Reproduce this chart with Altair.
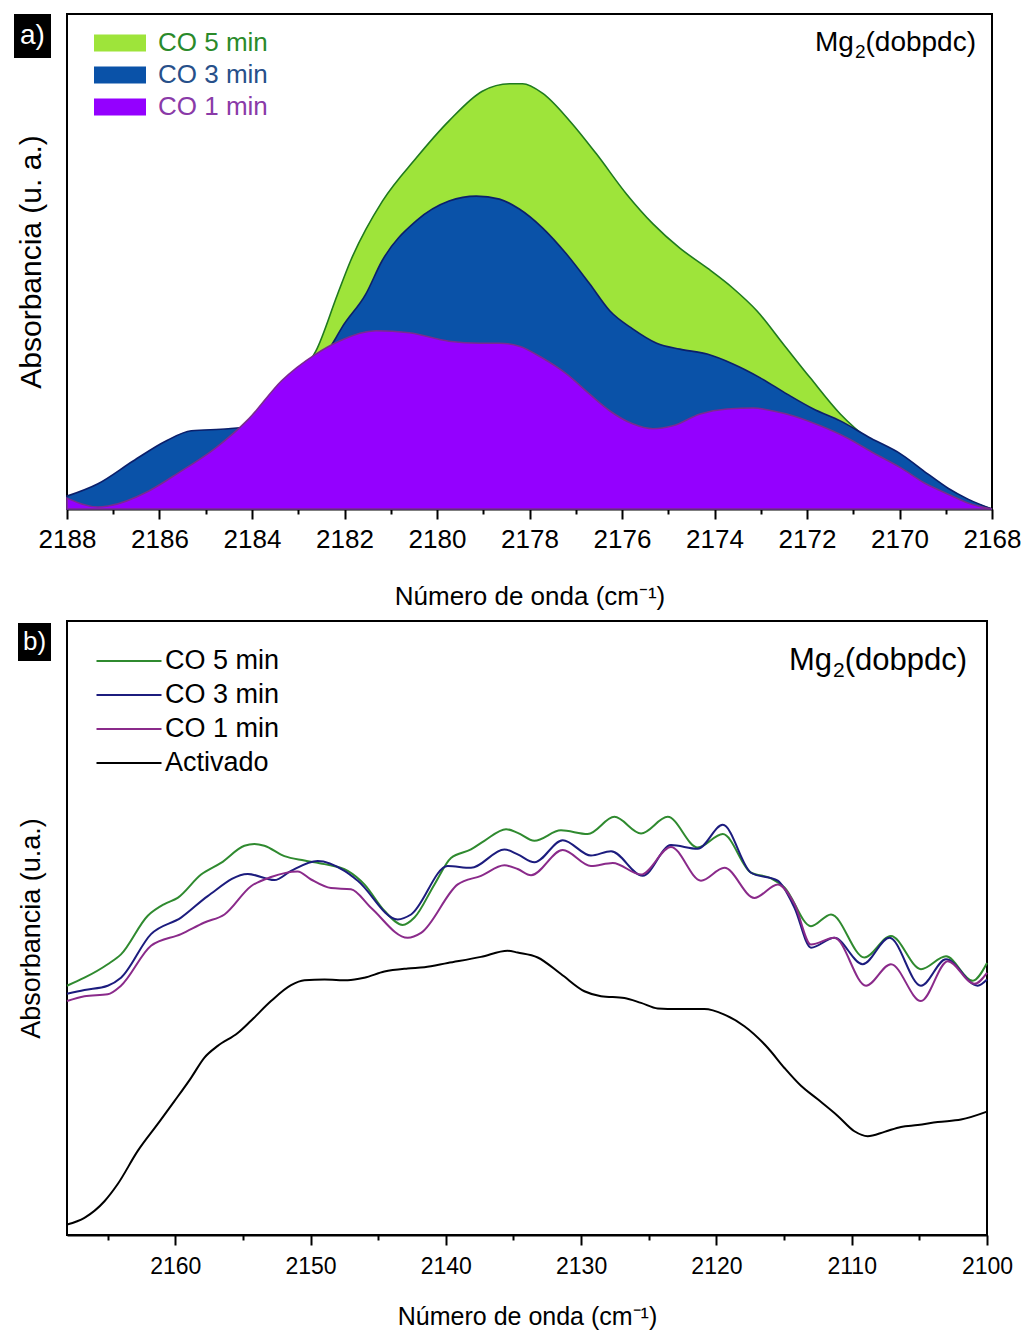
import altair as alt
import pandas as pd

FONT = "Liberation Sans, Arial, sans-serif"

# ---------------- panel (a): CO band, 2188-2168 cm-1 ----------------
a_series = ["CO 5 min", "CO 3 min", "CO 1 min"]
a_fill = ["#9ee43a", "#0a52a8", "#9400ff"]
a_edge = ["#1f7a1f", "#0b1f6b", "#7b2a8f"]

a_wn_co5 = [2188.0, 2187.33, 2186.5, 2185.5, 2184.5, 2184.0, 2183.4, 2183.0, 2182.62, 2182.15,
            2181.87, 2181.18, 2180.45, 2179.74, 2179.02, 2178.43, 2178.15, 2177.72, 2177.13, 2176.55,
            2175.90, 2175.33, 2174.75, 2174.16, 2173.60, 2173.08, 2172.51, 2171.93, 2171.28, 2170.69,
            2169.97, 2169.39, 2168.95, 2168.52, 2168.0]
a_abs_co5 = [0.015, 0.030, 0.070, 0.120, 0.150, 0.165, 0.220, 0.270, 0.319, 0.434,
             0.501, 0.622, 0.709, 0.784, 0.844, 0.859, 0.859, 0.840, 0.784, 0.717,
             0.636, 0.576, 0.527, 0.487, 0.446, 0.400, 0.333, 0.265, 0.192, 0.143,
             0.106, 0.067, 0.039, 0.017, 0.0]

a_wn_co3 = [2188.0, 2187.33, 2186.57, 2185.87, 2185.31, 2184.51, 2184.0, 2183.5, 2183.0, 2182.5,
            2182.19, 2182.06, 2181.54, 2181.19, 2180.45, 2179.74, 2179.15, 2178.65, 2178.22, 2177.72,
            2177.20, 2176.70, 2176.26, 2175.77, 2175.25, 2174.75, 2174.16, 2173.60, 2173.01, 2172.43,
            2171.86, 2171.28, 2170.62, 2169.97, 2169.39, 2168.95, 2168.52, 2168.0]
a_abs_co3 = [0.026, 0.051, 0.097, 0.137, 0.158, 0.162, 0.168, 0.205, 0.255, 0.300,
             0.345, 0.366, 0.434, 0.501, 0.582, 0.622, 0.632, 0.626, 0.606, 0.568,
             0.515, 0.455, 0.400, 0.364, 0.335, 0.323, 0.313, 0.293, 0.265, 0.232,
             0.202, 0.178, 0.143, 0.111, 0.071, 0.042, 0.020, 0.0]

a_wn_co1 = [2188.0, 2187.33, 2187.11, 2186.24, 2185.59, 2184.79, 2184.07, 2183.36, 2182.62, 2182.12,
            2181.32, 2180.60, 2179.74, 2179.08, 2178.65, 2178.22, 2177.72, 2177.20, 2176.70, 2176.26,
            2175.77, 2175.33, 2174.90, 2174.31, 2173.73, 2173.16, 2172.73, 2172.29, 2171.71, 2171.12,
            2170.56, 2169.97, 2169.47, 2168.95, 2168.52, 2168.0]
a_abs_co1 = [0.022, 0.004, 0.006, 0.036, 0.073, 0.123, 0.182, 0.259, 0.313, 0.339,
             0.360, 0.356, 0.339, 0.335, 0.335, 0.329, 0.305, 0.273, 0.232, 0.198,
             0.172, 0.162, 0.168, 0.192, 0.202, 0.204, 0.198, 0.188, 0.168, 0.143,
             0.113, 0.083, 0.053, 0.030, 0.012, 0.0]

# ---------------- panel (b): 2168-2100 cm-1 spectra ----------------
b_series = ["CO 5 min", "CO 3 min", "CO 1 min", "Activado"]
b_colors = ["#2f8a2f", "#1c1c7e", "#8a2a8a", "#000000"]

b_wn_co5 = [2168.0, 2166.71, 2164.99, 2164.01, 2162.03, 2160.80, 2159.82, 2158.09, 2156.62, 2154.89,
            2154.15, 2153.41, 2151.93, 2150.45, 2148.97, 2147.25, 2146.02, 2144.54, 2143.19, 2142.32,
            2140.84, 2139.62, 2138.14, 2137.15, 2135.55, 2134.69, 2133.45, 2131.49, 2129.51, 2127.54,
            2125.57, 2123.60, 2121.38, 2119.53, 2117.44, 2115.96, 2114.97, 2113.01, 2111.53, 2109.06,
            2107.10, 2104.88, 2103.03, 2101.06, 2100.0]
b_abs_co5 = [0.406, 0.419, 0.441, 0.457, 0.520, 0.539, 0.549, 0.587, 0.606, 0.634,
             0.637, 0.634, 0.617, 0.610, 0.604, 0.593, 0.571, 0.528, 0.505, 0.517,
             0.571, 0.614, 0.628, 0.642, 0.661, 0.655, 0.642, 0.659, 0.653, 0.681,
             0.654, 0.681, 0.631, 0.653, 0.590, 0.581, 0.566, 0.503, 0.522, 0.452,
             0.487, 0.433, 0.454, 0.414, 0.443]

b_wn_co3 = [2168.0, 2166.71, 2164.99, 2164.01, 2161.79, 2159.57, 2157.60, 2154.64, 2152.67, 2151.44,
            2149.47, 2147.49, 2146.51, 2143.56, 2142.57, 2139.86, 2138.14, 2135.67, 2134.69, 2133.45,
            2131.36, 2129.27, 2127.79, 2125.45, 2123.36, 2121.38, 2119.53, 2117.44, 2115.47, 2114.23,
            2113.01, 2111.28, 2109.19, 2107.21, 2104.88, 2103.03, 2100.69, 2100.0]
b_abs_co3 = [0.393, 0.399, 0.406, 0.419, 0.490, 0.517, 0.552, 0.588, 0.578, 0.593,
             0.609, 0.593, 0.577, 0.514, 0.522, 0.601, 0.598, 0.628, 0.620, 0.607,
             0.643, 0.618, 0.625, 0.585, 0.635, 0.629, 0.668, 0.590, 0.577, 0.533,
             0.468, 0.484, 0.441, 0.484, 0.406, 0.449, 0.406, 0.416]

b_wn_co1 = [2168.0, 2166.71, 2164.99, 2164.01, 2161.79, 2159.57, 2157.84, 2156.36, 2154.40, 2152.92,
            2150.95, 2149.96, 2148.49, 2147.01, 2145.53, 2142.82, 2141.83, 2139.12, 2137.40, 2135.67,
            2134.69, 2133.70, 2131.36, 2129.27, 2127.66, 2125.57, 2123.36, 2121.14, 2119.41, 2117.19,
            2115.47, 2114.23, 2113.01, 2111.28, 2108.94, 2107.10, 2104.88, 2102.90, 2100.93, 2100.0]
b_abs_co1 = [0.381, 0.389, 0.392, 0.406, 0.471, 0.490, 0.509, 0.522, 0.568, 0.583,
             0.592, 0.579, 0.565, 0.563, 0.533, 0.484, 0.492, 0.571, 0.585, 0.602,
             0.596, 0.586, 0.627, 0.601, 0.606, 0.587, 0.632, 0.577, 0.598, 0.549,
             0.571, 0.539, 0.473, 0.484, 0.406, 0.441, 0.381, 0.446, 0.409, 0.427]

b_wn_act = [2168.0, 2166.71, 2165.23, 2164.25, 2162.77, 2161.29, 2160.06, 2158.83, 2157.84, 2156.86,
            2155.38, 2154.40, 2152.92, 2151.44, 2150.45, 2148.97, 2147.25, 2146.02, 2144.54, 2142.82,
            2141.58, 2139.86, 2137.40, 2135.43, 2134.69, 2133.21, 2131.49, 2129.76, 2128.53, 2126.80,
            2125.57, 2124.34, 2122.86, 2120.89, 2119.41, 2117.93, 2116.21, 2114.97, 2113.75, 2112.51,
            2111.03, 2109.80, 2108.82, 2107.58, 2106.36, 2105.12, 2103.64, 2101.92, 2100.0]
b_abs_act = [0.017, 0.028, 0.055, 0.083, 0.137, 0.181, 0.218, 0.256, 0.289, 0.308,
             0.329, 0.349, 0.381, 0.407, 0.415, 0.416, 0.415, 0.419, 0.429, 0.434,
             0.436, 0.443, 0.453, 0.463, 0.460, 0.452, 0.425, 0.397, 0.389, 0.386,
             0.378, 0.369, 0.368, 0.368, 0.359, 0.340, 0.305, 0.272, 0.243, 0.221,
             0.194, 0.169, 0.161, 0.168, 0.176, 0.179, 0.184, 0.188, 0.201]


def frame(name, wn, ab):
    return pd.DataFrame({"series": name, "wn": wn, "abs": ab})


a_df = pd.concat([
    frame("CO 5 min", a_wn_co5, a_abs_co5),
    frame("CO 3 min", a_wn_co3, a_abs_co3),
    frame("CO 1 min", a_wn_co1, a_abs_co1),
], ignore_index=True)

b_df = pd.concat([
    frame("CO 5 min", b_wn_co5, b_abs_co5),
    frame("CO 3 min", b_wn_co3, b_abs_co3),
    frame("CO 1 min", b_wn_co1, b_abs_co1),
    frame("Activado", b_wn_act, b_abs_act),
], ignore_index=True)

XTITLE = "Número de onda (cm⁻¹)"

# Arial advance widths (em) for the glyphs of the "(dobpdc)" label
GLYPH_EM = {"(": 0.333, ")": 0.333, "d": 0.556, "o": 0.556, "b": 0.556, "p": 0.556, "c": 0.5, "2": 0.556}


def text_width(s, size):
    return sum(GLYPH_EM[ch] for ch in s) * size


def compound_label(right_x, mid_y, size):
    """'Mg' + subscript '2' + '(dobpdc)', right-aligned at right_x."""
    sub_size = round(size * 0.68)
    tail = "(dobpdc)"
    x_tail = right_x
    x_sub = x_tail - text_width(tail, size)
    x_head = x_sub - text_width("2", sub_size) - 1
    parts = [("(dobpdc)", x_tail, mid_y, size), ("2", x_sub, mid_y + 0.33 * size, sub_size),
             ("Mg", x_head, mid_y, size)]
    layers = []
    for txt, px, py, fs in parts:
        layers.append(
            alt.Chart(pd.DataFrame({"t": [txt]})).mark_text(
                align="right", baseline="middle", fontSize=fs, font=FONT, color="black"
            ).encode(text="t:N", x=alt.value(px), y=alt.value(py))
        )
    return layers


# ---------------- panel (a) ----------------
W_A, H_A = 925, 495
x_a = alt.X(
    "wn:Q",
    scale=alt.Scale(domain=[2168, 2188], reverse=True, nice=False, zero=False),
    axis=alt.Axis(
        values=list(range(2168, 2189)),
        labelExpr="datum.value % 2 === 0 ? datum.label : ''",
        format="d",
        tickSize={"condition": {"test": "datum.value % 2 === 0", "value": 10}, "value": 5},
        tickWidth=2, labelFontSize=26, labelPadding=7, labelOverlap=False, labelFlush=False,
        title=XTITLE, titleFontSize=26, titlePadding=31, grid=False,
        domainWidth=2,
    ),
)
y_a = alt.Y(
    "abs:Q",
    scale=alt.Scale(domain=[0, 1], nice=False),
    axis=alt.Axis(labels=False, ticks=False, domain=False, grid=False,
                  title="Absorbancia (u. a.)", titleFontSize=30, titlePadding=21),
)

# wide swatch path: spans 4 units across, so a small symbol size keeps rows compact
legend_a = alt.Legend(
    title=None, orient="none", legendX=40, legendY=16,
    symbolType="M-2,-0.65H2V0.65H-2Z", symbolSize=676, symbolStrokeWidth=0,
    symbolOpacity=1, labelFontSize=26, labelFont=FONT, labelOffset=25, rowPadding=6,
    labelColor=alt.ExprRef(
        "datum.value === 'CO 5 min' ? '#2a8a2a' : (datum.value === 'CO 3 min' ? '#27508a' : '#8a3aa8')"),
)

fill_scale = alt.Scale(domain=a_series, range=a_fill)
edge_scale = alt.Scale(domain=a_series, range=a_edge)

area_layers = []
for name in a_series:
    area_layers.append(
        alt.Chart(a_df)
        .transform_filter(alt.datum.series == name)
        .mark_area(interpolate="monotone", strokeWidth=1.6, fillOpacity=1)
        .encode(
            x=x_a, y=y_a,
            fill=alt.Fill("series:N", scale=fill_scale, legend=legend_a),
            stroke=alt.Stroke("series:N", scale=edge_scale, legend=None),
        )
    )

tag_a_df = pd.DataFrame({"t": ["a)"]})
tag_b_df = pd.DataFrame({"t": ["b)"]})

box_a = alt.Chart(tag_a_df).mark_rect(color="black").encode(
    x=alt.value(-53), x2=alt.value(-16), y=alt.value(0), y2=alt.value(44))
tag_a = alt.Chart(tag_a_df).mark_text(
    align="center", baseline="middle", fontSize=28, font=FONT, color="white"
).encode(text="t:N", x=alt.value(-34.5), y=alt.value(22))

panel_a = alt.layer(*area_layers, *compound_label(909, 29, 28), box_a, tag_a).properties(
    width=W_A, height=H_A)

# ---------------- panel (b) ----------------
W_B, H_B = 920, 614
x_b = alt.X(
    "wn:Q",
    scale=alt.Scale(domain=[2100, 2168], reverse=True, nice=False, zero=False),
    axis=alt.Axis(
        values=list(range(2100, 2166, 5)),
        labelExpr="datum.value % 10 === 0 ? datum.label : ''",
        format="d",
        tickSize={"condition": {"test": "datum.value % 10 === 0", "value": 10}, "value": 5},
        tickWidth=2, labelFontSize=23, labelPadding=10, labelOverlap=False, labelFlush=False,
        title=XTITLE, titleFontSize=25, titlePadding=26, grid=False,
        domainWidth=2,
    ),
)
y_b = alt.Y(
    "abs:Q",
    scale=alt.Scale(domain=[0, 1], nice=False),
    axis=alt.Axis(labels=False, ticks=False, domain=False, grid=False,
                  title="Absorbancia (u.a.)", titleFontSize=27, titlePadding=22),
)

legend_b = alt.Legend(
    title=None, orient="none", legendX=48, legendY=26,
    symbolType="M-2.5,0H2.5", symbolSize=676, symbolStrokeWidth=2,
    labelFontSize=27, labelFont=FONT, labelOffset=22, rowPadding=7, labelColor="black",
)

lines_b = alt.Chart(b_df).mark_line(interpolate="monotone", strokeWidth=2).encode(
    x=x_b, y=y_b,
    color=alt.Color("series:N", scale=alt.Scale(domain=b_series, range=b_colors), legend=legend_b),
    order=alt.Order("wn:Q", sort="descending"),
)

box_b = alt.Chart(tag_b_df).mark_rect(color="black").encode(
    x=alt.value(-49), x2=alt.value(-16), y=alt.value(2), y2=alt.value(40))
tag_b = alt.Chart(tag_b_df).mark_text(
    align="center", baseline="middle", fontSize=26, font=FONT, color="white"
).encode(text="t:N", x=alt.value(-32.5), y=alt.value(21))

panel_b = alt.layer(lines_b, *compound_label(900, 40, 31), box_b, tag_b).properties(
    width=W_B, height=H_B)

chart = (
    alt.concat(panel_a, panel_b, columns=1, spacing=10, bounds="full")
    .resolve_scale(color="independent", fill="independent", stroke="independent")
    .resolve_legend(color="independent", fill="independent", stroke="independent")
    .properties(padding={"left": 13, "top": 13, "right": 4, "bottom": 4}, background="white")
    .configure_view(stroke="black", strokeWidth=2)
    .configure_axis(labelFont=FONT, titleFont=FONT, labelColor="black", titleColor="black",
                    tickColor="black", domainColor="black", titleFontWeight="normal")
)

chart.save("out.html", embed_options={"renderer": "svg", "actions": False})
